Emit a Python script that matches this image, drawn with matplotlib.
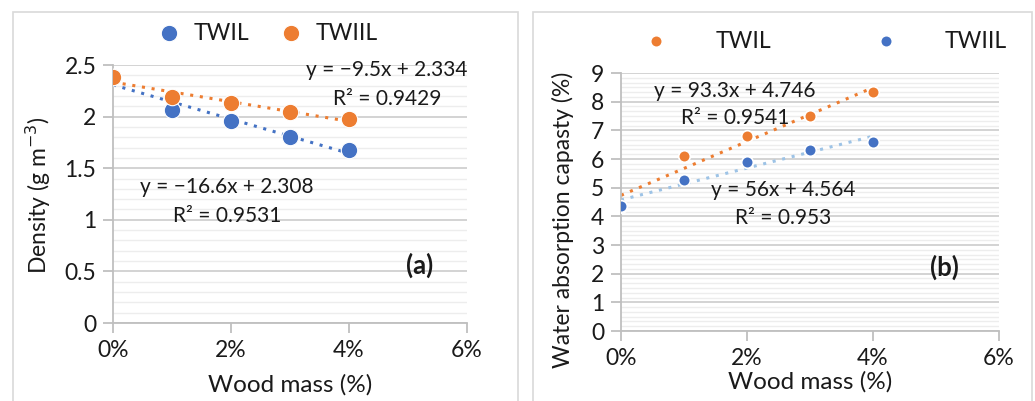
import numpy as np
import matplotlib.pyplot as plt
from matplotlib.ticker import MultipleLocator, PercentFormatter, FuncFormatter
from matplotlib.patches import Rectangle

plt.rcParams['font.family'] = ['Lato', 'DejaVu Sans']

BLUE = '#4472C4'
ORANGE = '#ED7D31'
LIGHTBLUE = '#9DC3E6'
TXT = '#1a1a1a'

# wood mass fraction
wood = [0.0, 0.01, 0.02, 0.03, 0.04]

# (a) density, g m-3
dens_twil = [2.38, 2.06, 1.96, 1.80, 1.68]
dens_twiil = [2.38, 2.19, 2.13, 2.04, 1.98]

# (b) water absorption, %
wa_twil = [4.33, 6.10, 6.80, 7.50, 8.33]
wa_twiil = [4.35, 5.27, 5.88, 6.32, 6.60]

W, H = 1035, 401
fig = plt.figure(figsize=(W / 100, H / 100), dpi=100)

# chart-area borders
for x0, x1 in [(13, 518), (533, 1032)]:
    fig.patches.append(Rectangle((x0 / W, -0.1), (x1 - x0) / W, 1 - 12 / H + 0.1,
                                 transform=fig.transFigure, fill=False,
                                 edgecolor='#D9D9D9', lw=1.2))

ax1 = fig.add_axes([113 / W, 1 - 323 / H, 354 / W, 258 / H])
ax2 = fig.add_axes([621 / W, 1 - 331 / H, 378 / W, 258 / H])


def style(ax, ymax, major, minor):
    ax.set_xlim(0, 0.06)
    ax.set_ylim(0, ymax)
    ax.xaxis.set_major_locator(MultipleLocator(0.02))
    ax.xaxis.set_major_formatter(PercentFormatter(1.0, decimals=0))
    ax.yaxis.set_major_locator(MultipleLocator(major))
    ax.yaxis.set_minor_locator(MultipleLocator(minor))
    ax.yaxis.set_major_formatter(FuncFormatter(lambda v, p: '{:g}'.format(round(v, 2))))
    ax.grid(axis='y', which='major', color='#D0D0D0', lw=1.3)
    ax.grid(axis='y', which='minor', color='#EDEDED', lw=1.0)
    ax.set_axisbelow(True)
    for s in ['top', 'right']:
        ax.spines[s].set_visible(False)
    for s in ['left', 'bottom']:
        ax.spines[s].set_color('#BFBFBF')
        ax.spines[s].set_linewidth(1.3)
    ax.tick_params(axis='both', which='major', color='#BFBFBF', length=7, width=1.3,
                   labelsize=16.5, labelcolor=TXT, pad=5)
    ax.tick_params(axis='y', which='minor', length=0)


def trend(ax, x, y, color):
    k, b = np.polyfit(x, y, 1)
    xs = np.array([x[0], x[-1]])
    ax.plot(xs, k * xs + b, ls=(0, (1, 2.2)), color=color, lw=2.2, zorder=2)


def note(ax, x, y, s, size=15, **kw):
    ax.text(x, y, s, fontsize=size, ha='center', va='center', color=TXT, **kw)


# (a)
style(ax1, 2.5, 0.5, 0.1)
trend(ax1, wood, dens_twil, BLUE)
trend(ax1, wood, dens_twiil, ORANGE)
ax1.scatter(wood, dens_twil, s=140, color=BLUE, edgecolor='white', lw=0.8, zorder=3, label='TWIL')
ax1.scatter(wood, dens_twiil, s=140, color=ORANGE, edgecolor='white', lw=0.8, zorder=4, label='TWIIL')
fig.text(38 / W, 1 - 195 / H, 'Density (g m$^{-3}$)', fontsize=16.5, rotation=90,
         ha='center', va='center', color=TXT)
fig.text(290 / W, 1 - 385 / H, 'Wood mass (%)', fontsize=17.5, ha='center', va='center', color=TXT)
note(ax1, 0.0464, 2.45, 'y = −9.5x + 2.334')
note(ax1, 0.0464, 2.17, 'R² = 0.9429')
note(ax1, 0.0193, 1.32, 'y = −16.6x + 2.308')
note(ax1, 0.0193, 1.04, 'R² = 0.9531')
note(ax1, 0.0519, 0.56, '(a)', size=18.5, fontweight='bold')
fig.legend(*ax1.get_legend_handles_labels(), loc='center', bbox_to_anchor=(262 / W, 1 - 33 / H),
           ncol=2, frameon=False, fontsize=16.5, handletextpad=0.1, columnspacing=0.8,
           borderpad=0, labelcolor=TXT)

# (b)
style(ax2, 9, 1, 1 / 6)
trend(ax2, wood, wa_twil, ORANGE)
trend(ax2, wood, wa_twiil, LIGHTBLUE)
ax2.scatter(wood, wa_twil, s=70, color=ORANGE, edgecolor='white', lw=1.2, zorder=3, label='TWIL')
ax2.scatter(wood, wa_twiil, s=70, color=BLUE, edgecolor='white', lw=1.2, zorder=4, label='TWIIL')
fig.text(563 / W, 1 - 220 / H, 'Water absorption capasty (%)', fontsize=16.5, rotation=90,
         ha='center', va='center', color=TXT)
fig.text(810 / W, 1 - 382 / H, 'Wood mass (%)', fontsize=17.5, ha='center', va='center', color=TXT)
note(ax2, 0.0181, 8.37, 'y = 93.3x + 4.746')
note(ax2, 0.0181, 7.43, 'R² = 0.9541')
note(ax2, 0.0257, 4.92, 'y = 56x + 4.564')
note(ax2, 0.0257, 3.94, 'R² = 0.953')
note(ax2, 0.0513, 2.23, '(b)', size=18.5, fontweight='bold')
fig.legend(*ax2.get_legend_handles_labels(), loc='center', bbox_to_anchor=(820 / W, 1 - 41 / H),
           ncol=2, frameon=False, fontsize=16.5, handletextpad=1.6, columnspacing=4.0,
           borderpad=0, labelcolor=TXT)

fig.savefig('out.png', dpi=100)
